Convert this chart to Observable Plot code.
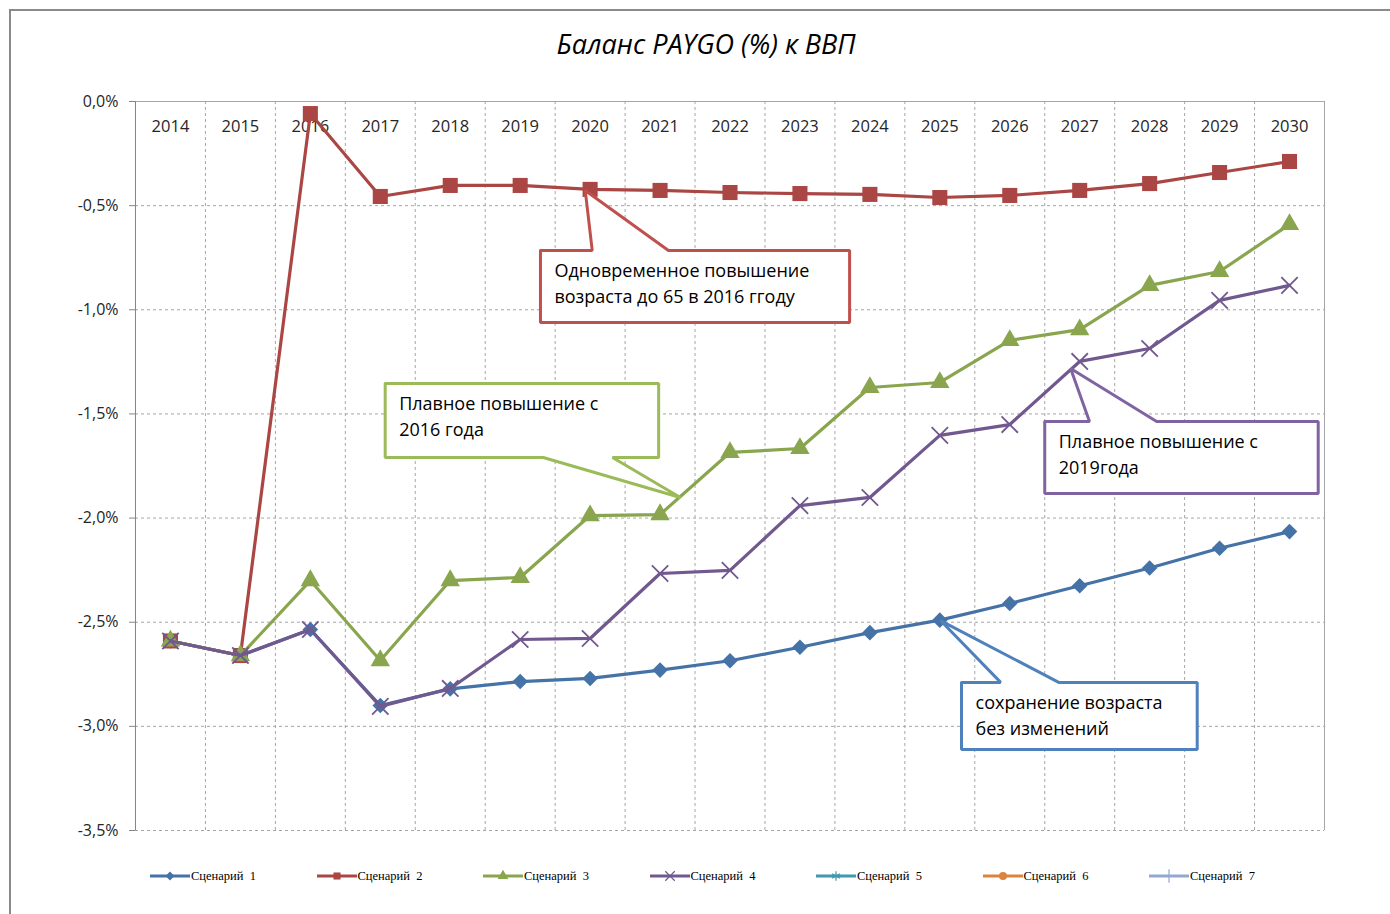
<!DOCTYPE html>
<html><head><meta charset="utf-8">
<script src="https://cdn.jsdelivr.net/npm/d3@7"></script>
<script src="https://cdn.jsdelivr.net/npm/@observablehq/plot@0.6"></script>
<style>
html,body{margin:0;padding:0;background:#fff;overflow:hidden;}
#wrap{position:relative;width:1390px;height:914px;overflow:hidden;font-family:"Open Sans",sans-serif;}
#frame{position:absolute;left:9px;top:9px;width:1400px;height:920px;border-left:2px solid #8a8a8a;border-top:2px solid #8a8a8a;pointer-events:none;}
#title{position:absolute;left:0;width:1412px;top:26px;text-align:center;font-style:italic;font-size:27px;line-height:36px;color:#000;}
#chart{position:absolute;left:0;top:0;}
#legend{position:absolute;top:866px;left:150px;display:flex;font-family:"Liberation Serif","Times New Roman",serif;font-size:12.5px;color:#000;white-space:pre;}
.item{width:166.5px;display:flex;align-items:center;height:20px;}
.item svg{display:block;margin-right:1px;}
</style>
</head><body>
<div id="wrap">
  <div id="chart"></div>
  <div id="title">Баланс PAYGO (%) к ВВП</div>
  <div id="legend"></div>
  <div id="frame"></div>
</div>
<script>
// ---- data ----
const years = [2014,2015,2016,2017,2018,2019,2020,2021,2022,2023,2024,2025,2026,2027,2028,2029,2030];
const scenario1 = [-2.59,-2.66,-2.535,-2.90,-2.82,-2.785,-2.77,-2.73,-2.685,-2.62,-2.55,-2.49,-2.41,-2.325,-2.24,-2.145,-2.065];
const scenario2 = [-2.59,-2.66,-0.058,-0.456,-0.403,-0.403,-0.422,-0.427,-0.437,-0.442,-0.446,-0.461,-0.451,-0.427,-0.394,-0.341,-0.288];
const scenario3 = [-2.59,-2.66,-2.30,-2.684,-2.30,-2.285,-1.988,-1.983,-1.685,-1.666,-1.373,-1.349,-1.147,-1.095,-0.883,-0.816,-0.590];
const scenario4 = [-2.59,-2.66,-2.535,-2.904,-2.818,-2.583,-2.578,-2.266,-2.251,-1.940,-1.901,-1.603,-1.551,-1.248,-1.186,-0.955,-0.883];
const seriesNames = ["Сценарий  1","Сценарий  2","Сценарий  3","Сценарий  4","Сценарий  5","Сценарий  6","Сценарий  7"];
const yTicks = [0,-0.5,-1,-1.5,-2,-2.5,-3,-3.5];

// ---- styles ----
const colors = ["#4572A7","#AA4643","#89A54E","#71588F","#4198AF","#DB843D","#93A9CF"];
const symbols = ["diamond2","square","triangle","times","asterisk","circle","plus"];
const seriesValues = [scenario1, scenario2, scenario3, scenario4];

// ---- annotations (data coordinates) ----
const callouts = [
  {lines:["Одновременное повышение","возраста до 65 в 2016 ггоду"], color:"#C0504D", x1:2019.29, x2:2023.71, y1:-0.715, y2:-1.061, side:"top", b1:2020.03, b2:2021.12, tx:2019.93, ty:-0.427},
  {lines:["Плавное повышение с","2016 года"], color:"#9BBB59", x1:2017.07, x2:2020.98, y1:-1.354, y2:-1.709, side:"bottom", b1:2019.33, b2:2020.32, tx:2021.29, ty:-1.901},
  {lines:["Плавное повышение с","2019года"], color:"#8064A2", x1:2026.50, x2:2030.41, y1:-1.536, y2:-1.882, side:"top", b1:2027.14, b2:2028.10, tx:2026.87, ty:-1.282},
  {lines:["сохранение возраста","без изменений"], color:"#4F81BD", x1:2025.31, x2:2028.68, y1:-2.789, y2:-3.111, side:"top", b1:2025.87, b2:2026.70, tx:2025.01, ty:-2.492}
];

function outline(c){
  if (c.side === "top") {
    return [[c.x1,c.y1],[c.b1,c.y1],[c.tx,c.ty],[c.b2,c.y1],[c.x2,c.y1],[c.x2,c.y2],[c.x1,c.y2],[c.x1,c.y1]];
  }
  return [[c.x1,c.y1],[c.x2,c.y1],[c.x2,c.y2],[c.b2,c.y2],[c.tx,c.ty],[c.b1,c.y2],[c.x1,c.y2],[c.x1,c.y1]];
}

const boundaries = years.slice(0,-1).map(y => y + 0.5);
const fmt = d => d.toFixed(1).replace(".", ",") + "%";

const marks = [
  Plot.ruleY(yTicks.filter(d => d !== 0), {stroke:"#a6a6a6", strokeDasharray:"3,3", strokeWidth:1}),
  Plot.ruleX(boundaries, {stroke:"#a6a6a6", strokeDasharray:"3,3", strokeWidth:1}),
  Plot.ruleY([0], {stroke:"#a6a6a6", strokeWidth:1}),
  Plot.ruleX([2030.5], {stroke:"#a6a6a6", strokeWidth:1}),
  Plot.ruleX([2013.5], {stroke:"#868686", strokeWidth:1}),
  Plot.axisY({ticks:yTicks, tickSize:6, tickPadding:11, tickFormat:fmt, fontSize:16, stroke:"#868686", fill:"#262626", label:null}),
  Plot.text(years, {x:d => d, text:d => String(d), frameAnchor:"top", dy:19, fontSize:16.5, fill:"#262626"})
];

seriesValues.forEach((vals, i) => {
  const rows = years.map((yr, j) => ({year:yr, value:vals[j]}));
  marks.push(Plot.line(rows, {x:"year", y:"value", stroke:colors[i], strokeWidth:3.2, strokeLinejoin:"round"}));
  const sym = symbols[i];
  if (sym === "times") {
    marks.push(Plot.dot(rows, {x:"year", y:"value", symbol:sym, r:7.5, stroke:colors[i], strokeWidth:1.8, fill:"none"}));
  } else {
    const r = sym === "square" ? 8.5 : sym === "diamond2" ? 7 : 7.2;
    marks.push(Plot.dot(rows, {x:"year", y:"value", symbol:sym, r, fill:colors[i], stroke:"none"}));
  }
});

callouts.forEach(c => {
  marks.push(Plot.line(outline(c), {x:d => d[0], y:d => d[1], stroke:c.color, strokeWidth:3, fill:"white", strokeLinejoin:"miter", curve:"linear"}));
  c.lines.forEach((t, k) => {
    marks.push(Plot.text([t], {x:() => c.x1, y:() => c.y1, text:d => d, textAnchor:"start", dx:14, dy:21 + 26*k, fontSize:18, fill:"#000"}));
  });
});

const chart = Plot.plot({
  width:1390, height:914,
  marginTop:101, marginBottom:84, marginLeft:135, marginRight:66,
  style:{background:"transparent", fontFamily:"'Open Sans', sans-serif", overflow:"visible"},
  x:{type:"linear", domain:[2013.5, 2030.5], axis:null},
  y:{domain:[-3.5, 0], axis:null},
  marks
});
document.getElementById("chart").appendChild(chart);

// ---- legend ----
const legend = d3.select("#legend");
const symMap = {diamond2:d3.symbolDiamond2, square:d3.symbolSquare, triangle:d3.symbolTriangle, times:d3.symbolTimes, asterisk:d3.symbolAsterisk, circle:d3.symbolCircle, plus:d3.symbolPlus};
seriesNames.forEach((name, i) => {
  const item = legend.append("div").attr("class", "item");
  const svg = item.append("svg").attr("width", 40).attr("height", 20);
  svg.append("line").attr("x1", 0).attr("x2", 40).attr("y1", 10).attr("y2", 10).attr("stroke", colors[i]).attr("stroke-width", 3);
  const strokeSym = ["times","asterisk","plus"].includes(symbols[i]);
  svg.append("path").attr("transform", "translate(20,10)")
    .attr("d", d3.symbol(symMap[symbols[i]], strokeSym ? 60 : 50)())
    .attr("fill", strokeSym ? "none" : colors[i])
    .attr("stroke", strokeSym ? colors[i] : "none")
    .attr("stroke-width", 1.2);
  item.append("span").text(name);
});
</script>
</body></html>
